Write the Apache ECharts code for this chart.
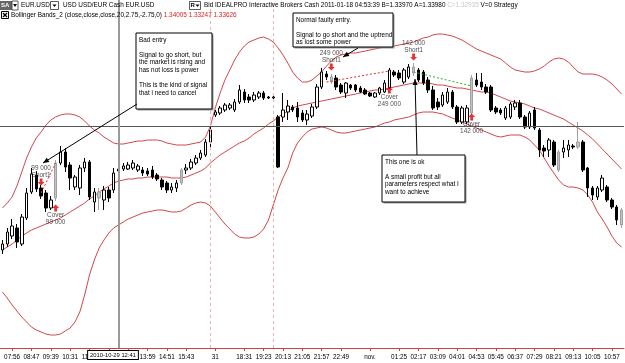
<!DOCTYPE html>
<html>
<head>
<meta charset="utf-8">
<script src="https://cdn.jsdelivr.net/npm/echarts/dist/echarts.min.js"></script>
<style>
html,body{margin:0;padding:0;background:#fff;}
#chart{width:625px;height:363px;}
</style>
</head>
<body>
<div id="chart"></div>
<script>
// 13 minute bars, EUR.USD, 29 Oct - 1 Nov 2010
var times = ['07:30','07:43','07:56','08:08','08:21','08:34','08:47','09:00','09:13','09:26',
  '09:39','09:52','10:05','10:18','10:31','10:44','10:57','11:10','11:23','11:36',
  '11:49','12:02','12:15','12:28','12:41','12:54','13:07','13:20','13:33','13:46',
  '13:59','14:12','14:25','14:38','14:51','15:04','15:17','15:30','15:43','15:56',
  '16:09','16:22','16:35','16:48','17:14','17:27','17:40','17:53','18:06','18:19',
  '18:31','18:44','18:57','19:10','19:23','19:36','19:49','20:01','20:13','20:26',
  '20:39','20:52','21:05','21:18','21:31','21:44','21:57','22:10','22:23','22:36',
  '22:49','23:02','23:15','23:28','23:41','23:54','00:07','00:20','00:33','00:46',
  '00:59','01:12','01:25','01:38','01:51','02:04','02:17','02:30','02:43','02:56',
  '03:09','03:22','03:35','03:48','04:01','04:14','04:27','04:40','04:53','05:06',
  '05:19','05:32','05:45','05:58','06:11','06:24','06:37','06:50','07:03','07:16',
  '07:29','07:42','07:55','08:08','08:21','08:34','08:47','09:00','09:13','09:26',
  '09:39','09:52','10:05','10:18','10:31','10:44','10:57','11:10','11:23'];

// bars that carry a tick label, and date labels that replace the time
var tickIdx = [2,6,10,14,18,22,26,30,34,38,44,50,54,58,62,66,70,76,82,86,90,94,98,102,106,110,114,118,122,126];
var dayLabels = {44: '31', 76: 'nov.'};

var open = [1.3294,1.3300,1.3308,1.3316,1.3300,1.3326,1.3352,1.3369,1.3356,1.3351,
  1.3336,1.3346,1.3381,1.3392,1.3379,1.3357,1.3356,1.3376,1.3382,1.3342,
  1.3346,1.3344,1.3354,1.3354,1.3373,1.3375,1.3375,1.3376,1.3374,1.3374,
  1.3373,1.3374,1.3369,1.3364,1.3361,1.3354,1.3356,1.3361,1.3374,1.3376,
  1.3381,1.3386,1.3389,1.3402,1.3429,1.3431,1.3434,1.3436,1.3434,1.3442,
  1.3452,1.3447,1.3444,1.3447,1.3451,1.3447,1.3446,1.3427,1.3427,1.3432,
  1.3437,1.3436,1.3431,1.3424,1.3428,1.3437,1.3457,1.3470,1.3467,1.3466,
  1.3459,1.3451,1.3459,1.3459,1.3456,1.3454,1.3451,1.3447,1.3451,1.3452,
  1.3456,1.3472,1.3471,1.3462,1.3467,1.3471,1.3474,1.3472,1.3464,1.3454,
  1.3442,1.3439,1.3442,1.3452,1.3437,1.3422,1.3422,1.3431,1.3464,1.3462,
  1.3457,1.3457,1.3436,1.3434,1.3426,1.3427,1.3437,1.3441,1.3427,1.3417,
  1.3434,1.3414,1.3396,1.3394,1.3402,1.3374,1.3392,1.3394,1.3398,1.3397,
  1.3402,1.3376,1.3356,1.3347,1.3354,1.3357,1.3344,1.3337,1.3319];

var close = [1.3300,1.3312,1.3318,1.3302,1.3327,1.3351,1.3370,1.3355,1.3348,1.3336,
  1.3344,1.3381,1.3392,1.3377,1.3366,1.3367,1.3376,1.3382,1.3347,1.3352,
  1.3352,1.3354,1.3346,1.3371,1.3375,1.3378,1.3379,1.3381,1.3378,1.3371,
  1.3370,1.3367,1.3365,1.3357,1.3354,1.3357,1.3361,1.3374,1.3376,1.3382,
  1.3386,1.3391,1.3402,1.3414,1.3432,1.3436,1.3439,1.3439,1.3442,1.3454,
  1.3444,1.3444,1.3449,1.3451,1.3446,1.3446,1.3447,1.3377,1.3434,1.3438,
  1.3434,1.3427,1.3424,1.3430,1.3437,1.3457,1.3472,1.3467,1.3462,1.3457,
  1.3452,1.3461,1.3456,1.3454,1.3452,1.3450,1.3448,1.3451,1.3456,1.3461,
  1.3474,1.3469,1.3466,1.3474,1.3477,1.3477,1.3464,1.3461,1.3454,1.3436,
  1.3437,1.3449,1.3452,1.3437,1.3422,1.3436,1.3436,1.3466,1.3459,1.3457,
  1.3452,1.3434,1.3432,1.3431,1.3436,1.3440,1.3441,1.3427,1.3417,1.3431,
  1.3416,1.3394,1.3393,1.3404,1.3379,1.3392,1.3396,1.3399,1.3397,1.3402,
  1.3374,1.3356,1.3349,1.3356,1.3366,1.3344,1.3337,1.3324,1.3334];

var high = [1.3304,1.3316,1.3325,1.3320,1.3330,1.3356,1.3376,1.3373,1.3359,1.3354,
  1.3348,1.3384,1.3398,1.3396,1.3382,1.3369,1.3379,1.3386,1.3384,1.3356,
  1.3356,1.3358,1.3357,1.3376,1.3378,1.3381,1.3382,1.3384,1.3380,1.3377,
  1.3376,1.3378,1.3371,1.3366,1.3363,1.3361,1.3364,1.3376,1.3380,1.3385,
  1.3389,1.3394,1.3405,1.3419,1.3434,1.3438,1.3441,1.3441,1.3445,1.3459,
  1.3455,1.3450,1.3452,1.3453,1.3453,1.3448,1.3449,1.3429,1.3451,1.3444,
  1.3439,1.3442,1.3434,1.3434,1.3440,1.3460,1.3476,1.3473,1.3470,1.3469,
  1.3461,1.3462,1.3460,1.3460,1.3458,1.3456,1.3452,1.3452,1.3457,1.3464,
  1.3476,1.3474,1.3474,1.3476,1.3480,1.3481,1.3476,1.3474,1.3467,1.3458,
  1.3446,1.3452,1.3456,1.3454,1.3439,1.3438,1.3439,1.3469,1.3471,1.3471,
  1.3460,1.3459,1.3438,1.3436,1.3438,1.3442,1.3444,1.3444,1.3429,1.3433,
  1.3437,1.3416,1.3399,1.3406,1.3404,1.3394,1.3404,1.3404,1.3400,1.3422,
  1.3404,1.3377,1.3358,1.3358,1.3369,1.3359,1.3346,1.3339,1.3336];

var low = [1.3290,1.3297,1.3305,1.3296,1.3298,1.3324,1.3350,1.3352,1.3345,1.3332,
  1.3334,1.3343,1.3379,1.3372,1.3354,1.3354,1.3349,1.3372,1.3344,1.3332,
  1.3334,1.3334,1.3342,1.3351,1.3372,1.3373,1.3374,1.3374,1.3372,1.3368,
  1.3368,1.3365,1.3363,1.3354,1.3351,1.3351,1.3352,1.3359,1.3370,1.3374,
  1.3379,1.3384,1.3387,1.3397,1.3427,1.3429,1.3432,1.3434,1.3432,1.3440,
  1.3441,1.3441,1.3442,1.3445,1.3444,1.3445,1.3445,1.3376,1.3422,1.3424,
  1.3432,1.3422,1.3422,1.3419,1.3426,1.3435,1.3455,1.3464,1.3460,1.3454,
  1.3450,1.3446,1.3454,1.3452,1.3451,1.3449,1.3447,1.3446,1.3449,1.3451,
  1.3455,1.3467,1.3464,1.3460,1.3465,1.3468,1.3462,1.3459,1.3451,1.3434,
  1.3434,1.3437,1.3440,1.3435,1.3420,1.3420,1.3420,1.3429,1.3457,1.3454,
  1.3450,1.3432,1.3430,1.3429,1.3424,1.3425,1.3434,1.3425,1.3415,1.3415,
  1.3414,1.3387,1.3387,1.3387,1.3377,1.3372,1.3386,1.3387,1.3395,1.3395,
  1.3372,1.3347,1.3344,1.3344,1.3352,1.3342,1.3335,1.3319,1.3316];

// bars drawn in grey
var greyBars = [11, 20, 37, 68, 85, 97, 115, 119, 128];

// Bollinger Bands (20, 2.75)
var upper = [1.3336,1.3341,1.3347,1.3358,1.3372,1.3386,1.3397,1.3406,1.3412,1.3419,
  1.3424,1.3427,1.3429,1.3430,1.3430,1.3429,1.3427,1.3423,1.3418,1.3414,
  1.3411,1.3407,1.3404,1.3401,1.3400,1.3400,1.3401,1.3402,1.3403,1.3403,
  1.3404,1.3404,1.3404,1.3403,1.3401,1.3400,1.3399,1.3399,1.3399,1.3400,
  1.3401,1.3402,1.3407,1.3418,1.3436,1.3451,1.3464,1.3474,1.3484,1.3492,
  1.3498,1.3502,1.3504,1.3506,1.3507,1.3505,1.3502,1.3496,1.3489,1.3481,
  1.3472,1.3466,1.3462,1.3462,1.3464,1.3468,1.3472,1.3478,1.3483,1.3487,
  1.3489,1.3490,1.3491,1.3491,1.3492,1.3493,1.3494,1.3495,1.3496,1.3497,
  1.3497,1.3498,1.3499,1.3500,1.3501,1.3502,1.3504,1.3506,1.3507,1.3509,
  1.3510,1.3510,1.3509,1.3508,1.3506,1.3504,1.3501,1.3498,1.3495,1.3493,
  1.3491,1.3489,1.3487,1.3485,1.3481,1.3477,1.3474,1.3473,1.3472,1.3472,
  1.3473,1.3475,1.3478,1.3482,1.3485,1.3486,1.3485,1.3482,1.3477,1.3472,
  1.3470,1.3470,1.3470,1.3469,1.3467,1.3464,1.3460,1.3455,1.3450];

var middle = [1.3294,1.3297,1.3300,1.3304,1.3308,1.3311,1.3314,1.3316,1.3318,1.3320,
  1.3322,1.3324,1.3326,1.3329,1.3332,1.3335,1.3338,1.3341,1.3345,1.3348,
  1.3352,1.3355,1.3358,1.3361,1.3363,1.3364,1.3365,1.3365,1.3366,1.3366,
  1.3367,1.3367,1.3367,1.3367,1.3367,1.3366,1.3366,1.3366,1.3367,1.3369,
  1.3371,1.3373,1.3376,1.3381,1.3385,1.3389,1.3392,1.3395,1.3398,1.3401,
  1.3403,1.3406,1.3410,1.3413,1.3416,1.3420,1.3423,1.3427,1.3430,1.3433,
  1.3436,1.3438,1.3439,1.3440,1.3441,1.3442,1.3443,1.3444,1.3445,1.3446,
  1.3447,1.3448,1.3449,1.3450,1.3451,1.3452,1.3453,1.3454,1.3454,1.3455,
  1.3456,1.3457,1.3458,1.3459,1.3460,1.3461,1.3461,1.3461,1.3461,1.3460,
  1.3459,1.3459,1.3458,1.3457,1.3456,1.3456,1.3455,1.3454,1.3453,1.3452,
  1.3452,1.3451,1.3449,1.3447,1.3445,1.3443,1.3442,1.3441,1.3440,1.3438,
  1.3436,1.3435,1.3433,1.3431,1.3429,1.3427,1.3425,1.3422,1.3419,1.3416,
  1.3413,1.3409,1.3405,1.3400,1.3395,1.3390,1.3385,1.3380,1.3375];

var lower = [1.3252,1.3246,1.3239,1.3233,1.3227,1.3222,1.3217,1.3214,1.3212,1.3210,
  1.3209,1.3209,1.3210,1.3213,1.3216,1.3222,1.3232,1.3249,1.3269,1.3284,
  1.3296,1.3304,1.3311,1.3316,1.3319,1.3322,1.3325,1.3327,1.3329,1.3331,
  1.3332,1.3333,1.3334,1.3334,1.3333,1.3332,1.3332,1.3333,1.3336,1.3339,
  1.3341,1.3342,1.3341,1.3338,1.3332,1.3326,1.3320,1.3315,1.3310,1.3307,
  1.3306,1.3306,1.3307,1.3310,1.3315,1.3324,1.3339,1.3354,1.3366,1.3376,
  1.3391,1.3401,1.3407,1.3412,1.3415,1.3416,1.3417,1.3416,1.3414,1.3412,
  1.3411,1.3411,1.3412,1.3413,1.3414,1.3415,1.3416,1.3417,1.3419,1.3421,
  1.3422,1.3424,1.3425,1.3426,1.3427,1.3429,1.3431,1.3432,1.3432,1.3432,
  1.3431,1.3430,1.3428,1.3426,1.3424,1.3422,1.3420,1.3418,1.3416,1.3414,
  1.3412,1.3410,1.3408,1.3407,1.3408,1.3409,1.3409,1.3409,1.3407,1.3404,
  1.3399,1.3394,1.3386,1.3378,1.3371,1.3364,1.3359,1.3357,1.3357,1.3356,
  1.3354,1.3349,1.3342,1.3332,1.3325,1.3317,1.3308,1.3301,1.3297];

// strategy signals
var signalBar = [8, 11, 68, 80, 85, 97];
var signalPrice = [1.3362, 1.3336, 1.3477, 1.3454, 1.3487, 1.3427];
var signalKind = ['short', 'cover', 'short', 'cover', 'short', 'cover'];
var signalText = ['99 000\nShort1', 'Cover\n99 000', '249 000\nShort1', 'Cover\n249 000', '142 000\nShort1', 'Cover\n142 000'];

// trades: entry bar/price -> exit bar/price
var tradeFrom = [[8, 1.3351], [67, 1.3462], [85, 1.3472]];
var tradeTo = [[11, 1.3381], [80, 1.3473], [97, 1.3458]];
var tradeColor = ['#e03030', '#e03030', '#30b030'];

var sessionBars = [43, 56];
var cursorBar = 24;
var cursorPrice = 1.3418;
var cursorText = '2010-10-29 12:41';

var FONT = 'Liberation Sans';
var downArrow = 'path://M3,0 L7,0 L7,5 L10,5 L5,10 L0,5 L3,5 Z';
var upArrow = 'path://M5,0 L10,5 L7,5 L7,10 L3,10 L3,5 L0,5 Z';

var greyStyle = { color: '#c4c4c4', color0: '#c4c4c4', borderColor: '#a0a0a0', borderColor0: '#a0a0a0' };
var candles = open.map(function (o, i) {
  var v = [o, close[i], low[i], high[i]];
  return greyBars.indexOf(i) >= 0 ? { value: v, itemStyle: greyStyle } : v;
});

var signals = signalBar.map(function (b, i) {
  var isShort = signalKind[i] === 'short';
  return {
    value: [b, signalPrice[i]],
    symbol: isShort ? downArrow : upArrow,
    label: { show: true, position: isShort ? 'top' : 'bottom', formatter: signalText[i] }
  };
});

var trades = tradeFrom.map(function (f, i) {
  return [{ coord: f, lineStyle: { color: tradeColor[i] } }, { coord: tradeTo[i] }];
});

function txt(x, y, s, extra) {
  var st = { text: s, x: x, y: y, font: '6.4px ' + FONT, fill: '#000', verticalAlign: 'middle' };
  for (var k in extra) st[k] = extra[k];
  return { type: 'text', z: 100, style: st };
}
function box(x, y, w, h, lines) {
  return [
    { type: 'rect', z: 99, shape: { x: x + 1.5, y: y + 1.5, width: w, height: h }, style: { fill: '#999' } },
    { type: 'rect', z: 99, shape: { x: x, y: y, width: w, height: h }, style: { fill: '#fff', stroke: '#000', lineWidth: 1 } },
    { type: 'text', z: 100, style: { text: lines.join('\n'), x: x + 3, y: y + 3, font: '6.4px ' + FONT, fill: '#000', lineHeight: 7.6, verticalAlign: 'top' } }
  ];
}
function arrow(x1, y1, x2, y2) {
  var dx = x2 - x1, dy = y2 - y1, len = Math.sqrt(dx * dx + dy * dy);
  var ux = dx / len, uy = dy / len, bx = x2 - 6 * ux, by = y2 - 6 * uy;
  return [
    { type: 'line', z: 100, shape: { x1: x1, y1: y1, x2: x2, y2: y2 }, style: { stroke: '#000', lineWidth: 1 } },
    { type: 'polygon', z: 100, shape: { points: [[x2, y2], [bx + 2.5 * uy, by - 2.5 * ux], [bx - 2.5 * uy, by + 2.5 * ux]] }, style: { fill: '#000' } }
  ];
}

var graphics = [
  // header, line 1
  { type: 'rect', z: 100, shape: { x: 0, y: 1, width: 12, height: 9 }, style: { fill: '#666' } },
  txt(1, 5.5, 'SA', { fill: '#fff', font: 'bold 6px ' + FONT }),
  { type: 'rect', z: 100, shape: { x: 12, y: 1, width: 6, height: 9 }, style: { fill: '#fff', stroke: '#333', lineWidth: 0.8 } },
  { type: 'polygon', z: 101, shape: { points: [[13, 4], [17, 4], [15, 7]] }, style: { fill: '#000' } },
  txt(21, 5.5, 'EUR.USD'),
  { type: 'rect', z: 100, shape: { x: 50.5, y: 1.5, width: 8, height: 8 }, style: { fill: '#fff', stroke: '#333', lineWidth: 0.8 } },
  { type: 'polygon', z: 101, shape: { points: [[52.5, 4.5], [56.5, 4.5], [54.5, 7]] }, style: { fill: '#000' } },
  txt(63, 5.5, 'USD USD/EUR Cash EUR.USD'),
  { type: 'rect', z: 100, shape: { x: 189.5, y: 1.5, width: 11, height: 8 }, style: { fill: '#fff', stroke: '#333', lineWidth: 0.8 } },
  txt(190.5, 5.5, 'R', { font: 'bold 6px ' + FONT }),
  { type: 'polygon', z: 101, shape: { points: [[195.5, 4.5], [199.5, 4.5], [197.5, 7]] }, style: { fill: '#000' } },
  txt(204, 5.5, '{a|Bid IDEALPRO Interactive Brokers Cash 2011-01-18 04:53:39 B=1.33970 A=1.33980 }{g|C=1.32935}{a| V=0 Strategy}', {
    rich: { a: { font: '6.4px ' + FONT, fill: '#000' }, g: { font: '6.4px ' + FONT, fill: '#c8c8c8' } }
  }),
  // header, line 2
  { type: 'rect', z: 100, shape: { x: 1.5, y: 11.5, width: 7, height: 7 }, style: { fill: '#fff', stroke: '#000', lineWidth: 1 } },
  { type: 'line', z: 101, shape: { x1: 3, y1: 13, x2: 7, y2: 17 }, style: { stroke: '#000', lineWidth: 1.3 } },
  { type: 'line', z: 101, shape: { x1: 7, y1: 13, x2: 3, y2: 17 }, style: { stroke: '#000', lineWidth: 1.3 } },
  txt(11, 15.5, '{a|Bollinger Bands_2 (close,close,close,20,2.75,-2.75,0) }{r|1.34005 1.33247 1.33626}', {
    rich: { a: { font: '6.4px ' + FONT, fill: '#000' }, r: { font: '6.4px ' + FONT, fill: '#e02020' } }
  }),
  // cursor time box on the time axis
  { type: 'text', z: 110, style: {
    text: cursorText, x: 113, y: 355, align: 'center', verticalAlign: 'middle',
    font: '5.8px ' + FONT, fill: '#000', backgroundColor: '#fff', borderColor: '#000', borderWidth: 1, padding: [1, 2]
  } }
];
graphics = graphics
  .concat(box(136, 33, 76, 76, ['Bad entry', '', 'Signal to go short, but', 'the market is rising and', 'has not loss is power', '', 'This is the kind of signal', 'that i need to cancel']))
  .concat(box(293, 13, 100, 34, ['Normal faulty entry.', '', 'Signal to go short and the uptrend', 'as lost some power']))
  .concat(box(382, 155, 83, 47, ['This one is ok', '', 'A small profit but all', 'parameters respect what I', 'want to achieve']))
  .concat(arrow(137, 104, 43, 163))
  .concat(arrow(358, 48, 343, 57))
  .concat(arrow(417, 155, 415, 79));

var chart = echarts.init(document.getElementById('chart'));
chart.setOption({
  animation: false,
  backgroundColor: '#fff',
  textStyle: { fontFamily: FONT },
  grid: { left: 0, right: 1, top: 0, bottom: 15 },
  axisPointer: { triggerOn: 'none' },
  xAxis: {
    type: 'category',
    data: times,
    boundaryGap: true,
    axisLine: { lineStyle: { color: '#d04040', width: 1 } },
    axisTick: {
      show: true, length: 3, alignWithLabel: true,
      interval: function (i) { return tickIdx.indexOf(i) >= 0; },
      lineStyle: { color: '#d04040' }
    },
    axisLabel: {
      fontSize: 6.4, color: '#000', margin: 6,
      interval: function (i) { return tickIdx.indexOf(i) >= 0; },
      formatter: function (v, i) { return dayLabels[i] || v; }
    },
    splitLine: { show: false },
    axisPointer: {
      show: true, type: 'line', value: cursorBar, status: 'show', snap: true,
      lineStyle: { color: '#9a9a9a', width: 2, type: 'solid' },
      label: { show: false }
    }
  },
  yAxis: {
    type: 'value', min: 1.3196, max: 1.3544, scale: true,
    axisLine: { show: false }, axisTick: { show: false }, axisLabel: { show: false },
    splitLine: { show: false },
    axisPointer: {
      show: true, type: 'line', value: cursorPrice, status: 'show',
      lineStyle: { color: '#555', width: 1, type: 'solid' },
      label: { show: false }
    }
  },
  series: [
    { type: 'line', name: 'upper', data: upper, symbol: 'none', silent: true, lineStyle: { color: '#d04848', width: 1 }, z: 2 },
    { type: 'line', name: 'middle', data: middle, symbol: 'none', silent: true, lineStyle: { color: '#d04848', width: 1 }, z: 2 },
    { type: 'line', name: 'lower', data: lower, symbol: 'none', silent: true, lineStyle: { color: '#d04848', width: 1 }, z: 2 },
    {
      type: 'candlestick', name: 'EUR.USD', data: candles, barWidth: 3, z: 3,
      itemStyle: { color: '#fff', color0: '#000', borderColor: '#000', borderColor0: '#000', borderWidth: 1 },
      markLine: {
        silent: true, symbol: 'none', animation: false,
        label: { show: false },
        lineStyle: { type: [2, 2], width: 1 },
        data: trades.concat(sessionBars.map(function (b) {
          return { xAxis: times[b], lineStyle: { color: '#f0b0b0', type: [3, 3] } };
        }))
      }
    },
    {
      type: 'scatter', name: 'signals', data: signals, symbolSize: [7, 7], z: 5,
      itemStyle: { color: '#e00000' },
      label: { fontSize: 6.4, color: '#222', lineHeight: 7, distance: 0 }
    }
  ],
  graphic: graphics
});
</script>
</body>
</html>
